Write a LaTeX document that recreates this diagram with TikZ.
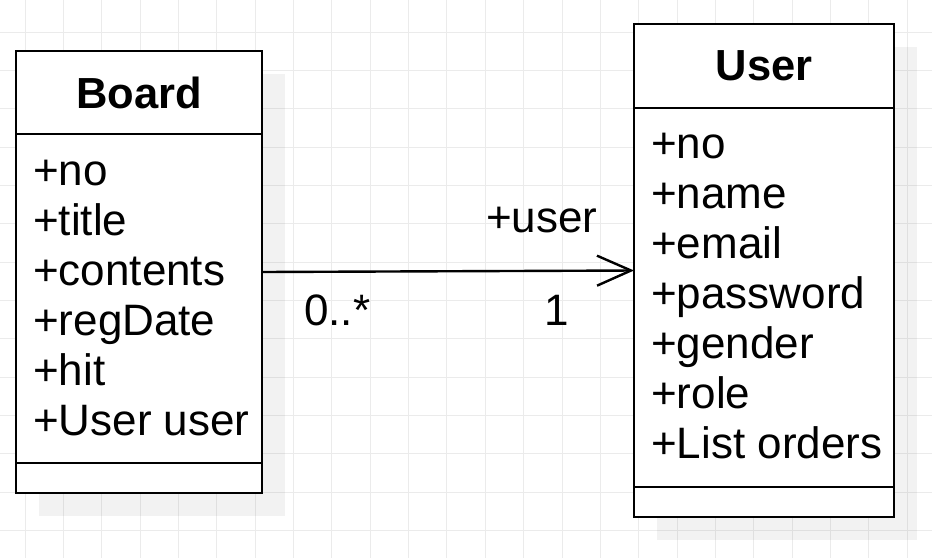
\documentclass[tikz,border=0pt]{standalone}
\usepackage{fontspec}
\setmainfont{Liberation Sans}
\usepackage{tikz}
\usetikzlibrary{arrows.meta, positioning, calc, shadows}
\definecolor{gridgray}{HTML}{EBEBEB}

\begin{document}
\begin{tikzpicture}[
  x=1pt, y=1pt,
  classbox/.style={draw=black, line width=2.6pt, fill=white, inner sep=0pt, outer sep=0pt,
    drop shadow={shadow xshift=23pt, shadow yshift=-23pt, fill=black, opacity=0.05}},
  classline/.style={line width=2.6pt},
  title/.style={anchor=base, font=\fontsize{43.5}{50}\selectfont\bfseries},
  attr/.style={anchor=base west, inner sep=0pt, font=\fontsize{44}{50}\selectfont},
  lbl/.style={anchor=base west, inner sep=0pt, font=\fontsize{44}{50}\selectfont},
  assoc/.style={-{Straight Barb[length=34pt, width=30pt]}, line width=2.4pt}
]
\useasboundingbox (0,0) rectangle (932,-558);
\fill[white] (0,0) rectangle (932,-558);

% grid
\foreach \k in {0,...,23}
  \draw[gridgray, line width=1pt] ({25+38.36*\k},0) -- ({25+38.36*\k},-558);
\foreach \k in {0,...,13}
  \draw[gridgray, line width=1pt] (0,{-32-38.36*\k}) -- (932,{-32-38.36*\k});

% classes
\node[classbox, anchor=north west, minimum width=246pt, minimum height=442pt] (board) at (16,-51) {};
\node[classbox, anchor=north west, minimum width=260pt, minimum height=493pt] (user) at (634,-24) {};

\draw[classline] ([yshift=-83pt]board.north west) -- ([yshift=-83pt]board.north east);
\draw[classline] ([yshift=30pt]board.south west) -- ([yshift=30pt]board.south east);
\draw[classline] ([yshift=-84pt]user.north west) -- ([yshift=-84pt]user.north east);
\draw[classline] ([yshift=30pt]user.south west) -- ([yshift=30pt]user.south east);

\node[title] (boardname) at ([yshift=-57pt]board.north) {Board};
\node[title] (username) at ([yshift=-56pt]user.north) {User};

\foreach \t [count=\i] in {+no, +title, +contents, +regDate, +hit, +User user}
  \node[attr] (battr\i) at ($(board.north west)+(17,{-134-50*(\i-1)})$) {\t};
\foreach \t [count=\i] in {+no, +name, +email, +password, +gender, +role, +List orders}
  \node[attr] (uattr\i) at ($(user.north west)+(17,{-134-50*(\i-1)})$) {\t};

% association
\draw[assoc] (board.east) -- (user.west)
  node[lbl, at end, xshift=-149pt, yshift=38.5pt] (rolename) {+user}
  node[lbl, at end, xshift=-91pt, yshift=-54.5pt] (multuser) {1}
  node[lbl, at start, xshift=41pt, yshift=-53pt] (multboard) {0..*};
\end{tikzpicture}
\end{document}
